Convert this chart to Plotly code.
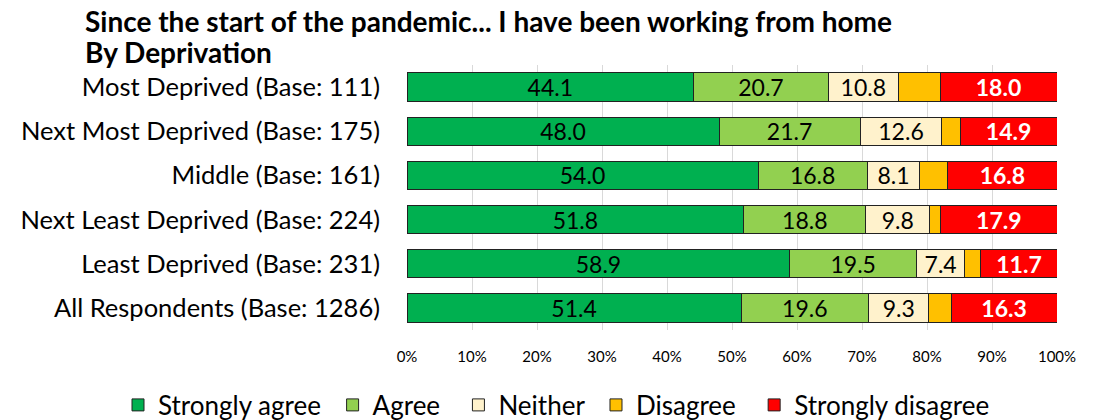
import plotly.graph_objects as go

categories = [
    "Most Deprived (Base: 111)",
    "Next Most Deprived (Base: 175)",
    "Middle (Base: 161)",
    "Next Least Deprived (Base: 224)",
    "Least Deprived (Base: 231)",
    "All Respondents (Base: 1286)",
]
strongly_agree = [44.1, 48.0, 54.0, 51.8, 58.9, 51.4]
agree = [20.7, 21.7, 16.8, 18.8, 19.5, 19.6]
neither = [10.8, 12.6, 8.1, 9.8, 7.4, 9.3]
disagree = [6.4, 2.8, 4.3, 1.7, 2.5, 3.4]
strongly_disagree = [18.0, 14.9, 16.8, 17.9, 11.7, 16.3]

NB = "\u00a0"
series = [
    ("Strongly agree", strongly_agree, "#00B050", True, "black", False, 1),
    ("Agree", agree, "#92D050", True, "black", False, 2),
    ("Neither", neither, "#FFF2CC", True, "black", False, 1),
    ("Disagree", disagree, "#FFC000", False, "black", False, 2),
    ("Strongly disagree", strongly_disagree, "#FF0000", True, "white", True, 0),
]

FONT = "Lato"
W, H = 1099, 420
# page-pixel targets of the plot area
PL, PR, PT, PB = 407, 1057, 65, 330
L, T, R, B = PL, PT, W - PR, H - PB
PW, PH = PR - PL, PB - PT


def px_x(x):
    return (x - PL) / PW


def px_y(y):
    return (PB - y) / PH


fig = go.Figure()
for name, vals, color, show_text, tcolor, bold, pad in series:
    if show_text:
        txt = [(f"<b>{v:.1f}</b>" if bold else f"{v:.1f}") for v in vals]
    else:
        txt = None
    fig.add_trace(go.Bar(
        y=categories, x=vals, name=name + NB * pad, orientation="h",
        marker=dict(color=color, line=dict(color="#222222", width=1)),
        text=txt, textposition="inside" if show_text else "none",
        insidetextanchor="middle", textangle=0, constraintext="none",
        textfont=dict(family=FONT, size=23, color=tcolor),
        hovertemplate=name + ": %{x:.1f}%<extra></extra>",
    ))

fig.update_layout(
    barmode="stack",
    bargap=0.355,
    width=W, height=H,
    margin=dict(l=L, r=R, t=T, b=B, autoexpand=False),
    plot_bgcolor="white", paper_bgcolor="white",
    font=dict(family=FONT, size=15, color="black"),
    xaxis=dict(
        range=[0, 100], dtick=10, ticksuffix="%",
        showgrid=True, gridcolor="#D9D9D9", gridwidth=1,
        zeroline=False, showline=False, automargin=False,
        tickfont=dict(family=FONT, size=15, color="black"),
        ticklabelstandoff=16,
    ),
    yaxis=dict(
        categoryorder="array", categoryarray=categories[::-1],
        tickfont=dict(family=FONT, size=25.5, color="black"),
        ticklabelstandoff=26, showgrid=False, automargin=False,
    ),
    legend=dict(
        orientation="h",
        x=px_x(118), y=px_y(405),
        xanchor="left", yanchor="middle",
        font=dict(family=FONT, size=26, color="black"),
        itemwidth=30, traceorder="normal",
    ),
)
fig.add_annotation(text="<b>Since the start of the pandemic... I have been working from home</b>",
                   xref="paper", yref="paper", x=px_x(83), y=px_y(21),
                   xanchor="left", yanchor="middle", showarrow=False,
                   font=dict(family=FONT, size=28, color="black"))
fig.add_annotation(text="<b>By Deprivation</b>",
                   xref="paper", yref="paper", x=px_x(83), y=px_y(52),
                   xanchor="left", yanchor="middle", showarrow=False,
                   font=dict(family=FONT, size=28, color="black"))

fig.write_html("out.html", config={"displayModeBar": False},
               post_script="document.body.style.margin='0';")
